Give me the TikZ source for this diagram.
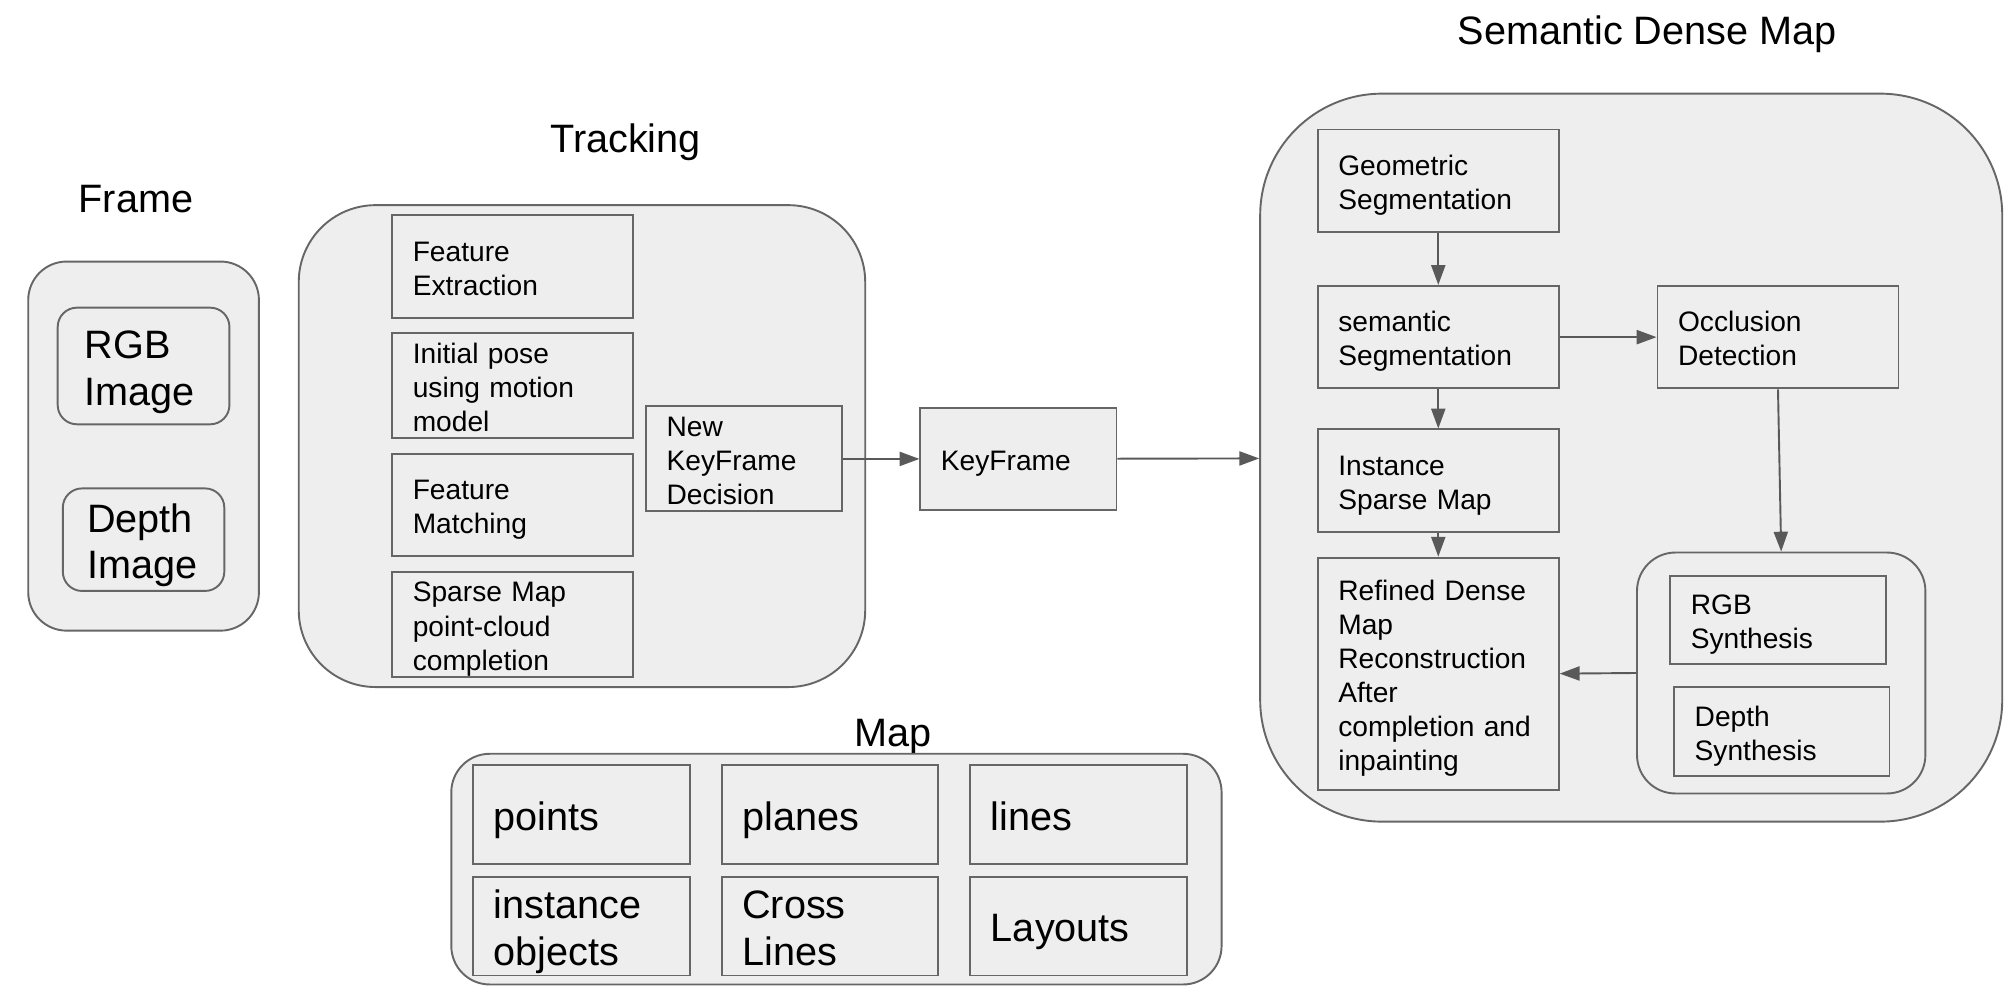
\documentclass[tikz,border=0pt]{standalone}
\usepackage{fontspec}
\setmainfont{Liberation Sans}
\usetikzlibrary{arrows.meta}

\definecolor{kastengrau}{HTML}{EEEEEE}
\definecolor{randgrau}{HTML}{666666}
\definecolor{pfeilgrau}{HTML}{595959}

\tikzset{
  rahmen/.style n args={3}{draw=randgrau, fill=kastengrau, line width=0.85pt, inner sep=0pt,
    minimum width=#1, minimum height=#2, rounded corners=#3},
  kasten/.style 2 args={draw=randgrau, fill=kastengrau, line width=0.85pt, inner xsep=0.32cm,
    inner ysep=0pt, align=left, font=\fontsize{12.5}{15.1}\selectfont, text width=#1, minimum height=#2,
    execute at begin node={\rule{0pt}{13.4pt}}, execute at end node={\rule[-3pt]{0pt}{3pt}}},
  grosskasten/.style 2 args={kasten={#1}{#2}, font=\fontsize{17.6}{20.8}\selectfont,
    execute at begin node={\rule{0pt}{18pt}}, execute at end node={\rule[-4pt]{0pt}{4pt}}},
  titel/.style={font=\fontsize{17.6}{20.8}\selectfont, anchor=base},
  pfeil/.style={draw=pfeilgrau, line width=0.85pt, -{Triangle[length=0.31cm,width=0.22cm]}}
}

\begin{document}
\begin{tikzpicture}[x=0.02cm, y=-0.02cm]
  \useasboundingbox (0,0) rectangle (1568,774.6);

  % Ueberschriften
  \node[titel] (tframe) at (106,166) {Frame};
  \node[titel] (ttracking) at (488,119) {Tracking};
  \node[titel] (tsdm) at (1285,35) {Semantic Dense Map};
  \node[titel] (tmap) at (697,582) {Map};

  % Frame
  \node[rahmen={3.6cm}{5.76cm}{0.6cm}] (frame) at (112,348) {};
  \node[grosskasten={1.84cm}{1.82cm}, inner xsep=0.42cm, rounded corners=0.3cm] (rgb) at (112,285.5) {RGB\\Image};
  \node[grosskasten={1.76cm}{1.6cm}, inner xsep=0.38cm, rounded corners=0.3cm] (depth) at (112,421) {Depth\\Image};

  % Tracking
  \node[rahmen={8.84cm}{7.52cm}{1.2cm}] (tracking) at (454,348) {};
  \node[kasten={3.12cm}{1.6cm}] (fe) at (400,208) {Feature\\Extraction};
  \node[kasten={3.12cm}{1.6cm}] (ip) at (400,301) {Initial pose\\using motion\\model};
  \node[kasten={3.12cm}{1.6cm}] (fm) at (400,394) {Feature\\Matching};
  \node[kasten={3.12cm}{1.6cm}] (sm) at (400,487) {Sparse Map\\point-cloud\\completion};
  \node[kasten={2.42cm}{1.6cm}] (nkd) at (580.5,358) {New\\KeyFrame\\Decision};

  % KeyFrame
  \node[kasten={2.42cm}{1.6cm}] (kf) at (794.5,358) {KeyFrame};

  % Semantic Dense Map
  \node[rahmen={11.58cm}{11.36cm}{1.9cm}] (sdm) at (1272.5,357) {};
  \node[kasten={3.12cm}{1.6cm}] (geo) at (1122,141) {Geometric\\Segmentation};
  \node[kasten={3.12cm}{1.6cm}] (sem) at (1122,263) {semantic\\Segmentation};
  \node[kasten={3.12cm}{1.6cm}] (occ) at (1387,263) {Occlusion\\Detection};
  \node[kasten={3.12cm}{1.6cm}] (inst) at (1122,375) {Instance\\Sparse Map};
  \node[kasten={3.12cm}{3.62cm}] (ref) at (1122,525.5) {Refined Dense\\Map\\Reconstruction\\After\\completion and\\inpainting};
  \node[rahmen={4.5cm}{3.76cm}{0.6cm}] (syn) at (1389.5,525) {};
  \node[kasten={2.72cm}{1.38cm}] (rgbsyn) at (1387,483.5) {RGB\\Synthesis};
  \node[kasten={2.72cm}{1.38cm}] (depthsyn) at (1390,570.5) {Depth\\Synthesis};

  % Map
  \node[rahmen={12.02cm}{3.6cm}{0.6cm}] (map) at (652.5,678) {};
  \node[grosskasten={2.74cm}{1.54cm}] (points) at (453.5,635.5) {points};
  \node[grosskasten={2.74cm}{1.54cm}] (planes) at (647.5,635.5) {planes};
  \node[grosskasten={2.74cm}{1.54cm}] (lines) at (841.5,635.5) {lines};
  \node[grosskasten={2.74cm}{1.54cm}] (objects) at (453.5,722.5) {instance\\objects};
  \node[grosskasten={2.74cm}{1.54cm}] (cross) at (647.5,722.5) {Cross\\Lines};
  \node[grosskasten={2.74cm}{1.54cm}] (layouts) at (841.5,722.5) {Layouts};

  % Pfeile
  \draw[pfeil] (nkd) -- (kf);
  \draw[pfeil] (kf) -- (sdm);
  \draw[pfeil] (geo) -- (sem);
  \draw[pfeil] (sem) -- (inst);
  \draw[pfeil] (inst) -- (ref);
  \draw[pfeil] (sem) -- (occ);
  \draw[pfeil] (occ.south) -- (syn.north);
  \draw[pfeil] (syn.west) -- (ref.east);
\end{tikzpicture}
\end{document}
